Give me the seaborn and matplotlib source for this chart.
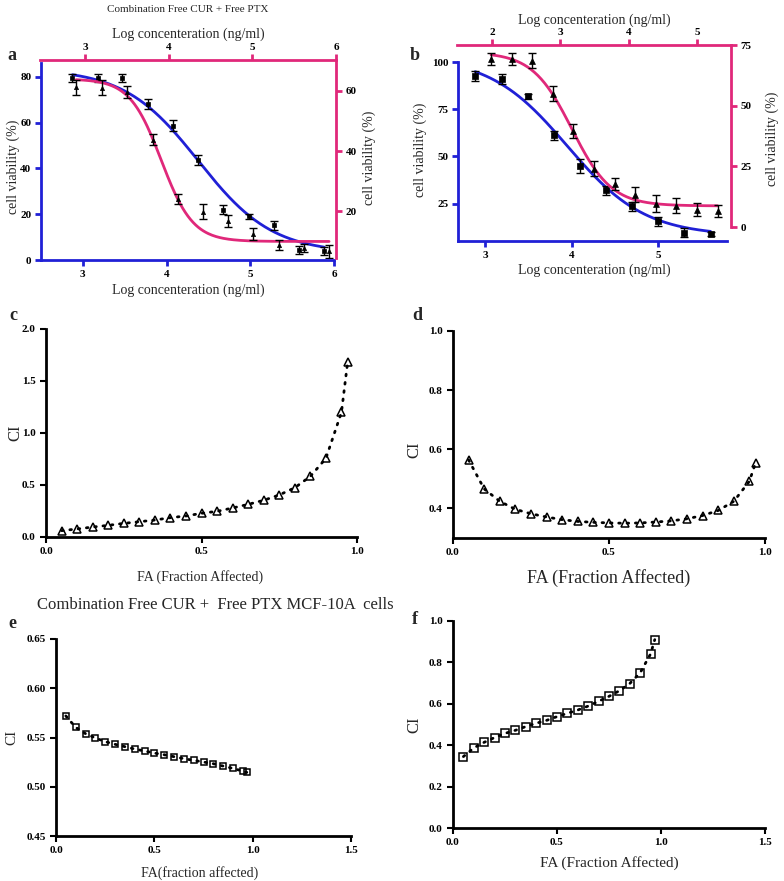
import numpy as np
import pandas as pd
import matplotlib
matplotlib.use("Agg")
import matplotlib.pyplot as plt
import seaborn as sns

sns.set_style("ticks")
plt.rcParams['font.family'] = ['Liberation Serif', 'DejaVu Serif']
plt.rcParams['mathtext.fontset'] = 'stix'

BLUE = "#2020d6"
PINK = "#e0287a"

# ---------------- data: panel a ----------------
a_sq_x = [2.876, 3.18, 3.468, 3.78, 4.072, 4.376, 4.68, 4.98, 5.284, 5.584, 5.884]
a_sq_y = [79.6, 79.6, 79.3, 68.1, 58.6, 43.7, 22.0, 19.0, 15.2, 4.3, 4.0]
a_sq_err = [1.8, 1.8, 1.8, 2.0, 2.4, 2.2, 1.8, 1.0, 2.0, 1.6, 1.6]
a_tri_x = [2.892, 3.2, 3.5, 3.807, 4.107, 4.406, 4.71, 5.01, 5.317, 5.617, 5.917]
a_tri_y = [61.2, 61.1, 59.7, 43.8, 24.1, 19.8, 16.9, 12.5, 8.8, 7.8, 6.7]
a_tri_err = [2.5, 2.5, 2.0, 1.8, 1.8, 2.5, 2.0, 2.0, 1.8, 1.2, 2.2]
# 4PL fit parameters: bottom, top, logEC50, hill
a_blue_fit = [3.0, 83.5, 4.38, 0.98]
a_pink_fit = [10.0, 64.0, 3.91, 2.3]

# ---------------- data: panel b ----------------
b_sq_x = [2.888, 3.192, 3.492, 3.792, 4.096, 4.392, 4.696, 4.996, 5.300, 5.600]
b_sq_y = [92.7, 91.0, 81.8, 61.2, 44.9, 32.1, 23.6, 15.6, 9.65, 8.8]
b_sq_err = [2.5, 2.5, 1.5, 2.5, 3.5, 2.5, 2.5, 2.5, 2.5, 1.0]
b_tri_x = [1.985, 2.289, 2.587, 2.891, 3.190, 3.493, 3.796, 4.095, 4.398, 4.697, 5.0, 5.304]
b_tri_y = [69.2, 69.2, 68.5, 55.0, 39.5, 24.1, 17.6, 13.3, 9.6, 8.8, 7.2, 6.6]
b_tri_err = [2.5, 2.5, 3.0, 3.0, 3.0, 3.0, 2.5, 3.0, 3.5, 3.0, 2.5, 2.5]
b_blue_fit = [8.0, 103.0, 3.95, 0.97]
b_pink_fit = [8.7, 72.0, 3.17, 1.5]

# ---------------- data: CI panels ----------------
fa = [0.05, 0.10, 0.15, 0.20, 0.25, 0.30, 0.35, 0.40, 0.45, 0.50,
      0.55, 0.60, 0.65, 0.70, 0.75, 0.80, 0.85, 0.90, 0.95, 0.97]
ci_c = [0.061, 0.077, 0.096, 0.112, 0.131, 0.147, 0.163, 0.186, 0.202, 0.228,
        0.247, 0.279, 0.314, 0.353, 0.404, 0.474, 0.583, 0.756, 1.199, 1.683]
ci_d = [0.564, 0.466, 0.424, 0.397, 0.382, 0.371, 0.362, 0.356, 0.353, 0.351,
        0.350, 0.351, 0.354, 0.358, 0.365, 0.376, 0.393, 0.424, 0.492, 0.555]
ci_e = [0.5719, 0.5603, 0.5539, 0.5495, 0.5458, 0.5431, 0.5407, 0.5383, 0.5363, 0.5342,
        0.5325, 0.5305, 0.5285, 0.5268, 0.5251, 0.5234, 0.5210, 0.5186, 0.5159, 0.5146]
ci_f = [0.345, 0.387, 0.414, 0.437, 0.457, 0.472, 0.490, 0.506, 0.520, 0.538,
        0.554, 0.570, 0.589, 0.612, 0.636, 0.663, 0.698, 0.750, 0.841, 0.910]

W, H = 784, 881
fig = plt.figure(figsize=(W / 100, H / 100), dpi=100)


def px_axes(x0, y0, x1, y1):
    return fig.add_axes([x0 / W, 1 - y1 / H, (x1 - x0) / W, (y1 - y0) / H])


def T(x, y, s, **kw):
    kw.setdefault('ha', 'center')
    kw.setdefault('va', 'center')
    fig.text(x / W, 1 - y / H, s, **kw)


def fourpl(x, p):
    bottom, top, ec50, hill = p
    return bottom + (top - bottom) / (1 + 10 ** ((x - ec50) * hill))


def style_main(ax, color, lw=2.0):
    for s in ['top', 'right']:
        ax.spines[s].set_visible(False)
    for s in ['left', 'bottom']:
        ax.spines[s].set_color(color)
        ax.spines[s].set_linewidth(lw)
    ax.tick_params(axis='both', colors=color, width=lw, length=4, direction='out',
                   labelcolor='black', labelsize=8, pad=3)
    for lab in ax.get_xticklabels() + ax.get_yticklabels():
        lab.set_fontweight('bold')
    ax.set_facecolor('none')


def style_twin(ax, color, lw=2.0):
    for s in ['bottom', 'left']:
        ax.spines[s].set_visible(False)
    for s in ['top', 'right']:
        ax.spines[s].set_color(color)
        ax.spines[s].set_linewidth(lw)
    ax.xaxis.tick_top()
    ax.yaxis.tick_right()
    ax.tick_params(axis='both', colors=color, width=lw, length=4, direction='out',
                   labelcolor='black', labelsize=8, pad=3)
    ax.tick_params(axis='x', pad=1.5)
    for lab in ax.get_xticklabels() + ax.get_yticklabels():
        lab.set_fontweight('bold')
    ax.set_facecolor('none')


def dose_panel(blue_box, pink_box, xl_b, yl_b, xl_p, yl_p, xt_b, yt_b, xt_p, yt_p,
               sq_x, sq_y, sq_e, tri_x, tri_y, tri_e, fit_b, fit_p, ms_sq, ms_tri):
    axb = px_axes(*blue_box)
    axp = px_axes(*pink_box)
    # blue curve + squares
    xb = np.linspace(min(sq_x), max(sq_x), 200)
    sns.lineplot(x=xb, y=fourpl(xb, fit_b), ax=axb, color=BLUE, lw=2.0)
    axb.errorbar(sq_x, sq_y, yerr=sq_e, fmt='none', ecolor='black', elinewidth=1.0,
                 capsize=2.8, capthick=1.0)
    sns.scatterplot(x=sq_x, y=sq_y, ax=axb, marker='s', color='black', s=ms_sq,
                    edgecolor='black', linewidth=0.5, zorder=5)
    axb.set_xlim(*xl_b)
    axb.set_ylim(*yl_b)
    axb.set_xticks(xt_b)
    axb.set_yticks(yt_b)
    axb.set_xticklabels([str(v) for v in xt_b])
    axb.set_yticklabels([str(v) for v in yt_b])
    axb.set_xlabel('')
    axb.set_ylabel('')
    style_main(axb, BLUE)
    # pink curve + triangles
    xp = np.linspace(min(tri_x), max(tri_x), 200)
    sns.lineplot(x=xp, y=fourpl(xp, fit_p), ax=axp, color=PINK, lw=2.0)
    axp.errorbar(tri_x, tri_y, yerr=tri_e, fmt='none', ecolor='black', elinewidth=1.0,
                 capsize=2.8, capthick=1.0)
    sns.scatterplot(x=tri_x, y=tri_y, ax=axp, marker='^', color='black', s=ms_tri,
                    edgecolor='black', linewidth=0.5, zorder=5)
    axp.set_xlim(*xl_p)
    axp.set_ylim(*yl_p)
    axp.set_xticks(xt_p)
    axp.set_yticks(yt_p)
    axp.set_xticklabels([str(v) for v in xt_p])
    axp.set_yticklabels([str(v) for v in yt_p])
    axp.set_xlabel('')
    axp.set_ylabel('')
    style_twin(axp, PINK)
    return axb, axp


# Panel a
dose_panel((41, 63, 334, 260), (40, 60, 336, 258),
           (2.5, 6.0), (0, 86), (2.46, 6.0), (4.5, 70.3),
           [3, 4, 5, 6], [0, 20, 40, 60, 80], [3, 4, 5, 6], [20, 40, 60],
           a_sq_x, a_sq_y, a_sq_err, a_tri_x, a_tri_y, a_tri_err,
           a_blue_fit, a_pink_fit, 11, 9)
T(188, 9, 'Combination Free CUR + Free PTX', fontsize=8)
T(188, 34, 'Log concenteration (ng/ml)', fontsize=10)
T(188, 290, 'Log concenteration (ng/ml)', fontsize=10)
T(13, 167, 'cell viability (%)', fontsize=10, rotation=90)
T(369, 158, 'cell viability (%)', fontsize=10, rotation=90)
T(12, 55, 'a', fontsize=13, fontweight='bold')

# Panel b
dose_panel((458, 62, 727, 241), (457, 45, 731, 227),
           (2.69, 5.79), (5.24, 100), (1.486, 5.5), (0, 75),
           [3, 4, 5], [25, 50, 75, 100], [2, 3, 4, 5], [0, 25, 50, 75],
           b_sq_x, b_sq_y, b_sq_err, b_tri_x, b_tri_y, b_tri_err,
           b_blue_fit, b_pink_fit, 18, 18)
T(594, 20, 'Log concenteration (ng/ml)', fontsize=10)
T(594, 270, 'Log concenteration (ng/ml)', fontsize=10)
T(420, 150, 'cell viability (%)', fontsize=10, rotation=90)
T(772, 139, 'cell viability (%)', fontsize=10, rotation=90)
T(415, 55, 'b', fontsize=13, fontweight='bold')


def ci_panel(box, x, y, marker, xlim, ylim, xticks, yticks, fmt, ms, mew=1.1):
    ax = px_axes(*box)
    sns.lineplot(x=x, y=y, ax=ax, color='black', lw=2.0, linestyle=(0, (0.6, 2.4)),
                 dash_capstyle='round', marker=marker, markersize=ms,
                 markerfacecolor='none', markeredgecolor='black', markeredgewidth=mew)
    ax.set_xlim(*xlim)
    ax.set_ylim(*ylim)
    ax.set_xticks(xticks)
    ax.set_yticks(yticks)
    ax.set_xticklabels([fmt[0].format(v) for v in xticks])
    ax.set_yticklabels([fmt[1].format(v) for v in yticks])
    ax.set_xlabel('')
    ax.set_ylabel('')
    for s in ['top', 'right']:
        ax.spines[s].set_visible(False)
    for s in ['left', 'bottom']:
        ax.spines[s].set_color('black')
        ax.spines[s].set_linewidth(2.0)
    ax.tick_params(axis='both', width=1.5, length=4, direction='out', labelsize=8,
                   colors='black')
    for lab in ax.get_xticklabels() + ax.get_yticklabels():
        lab.set_fontweight('bold')
    for l in ax.get_lines():
        l.set_clip_on(False)
    return ax


# Panel c
ci_panel((46, 329, 357, 537), fa, ci_c, '^', (0, 1.0), (0, 2.0),
         [0.0, 0.5, 1.0], [0.0, 0.5, 1.0, 1.5, 2.0], ('{:.1f}', '{:.1f}'), 6)
T(13, 315, 'c', fontsize=13, fontweight='bold')
T(15, 433, 'CI', fontsize=12, rotation=90)
T(200, 577, 'FA (Fraction Affected)', fontsize=10)

# Panel d
ci_panel((453, 331, 765, 538), fa, ci_d, '^', (0, 1.0), (0.3, 1.0),
         [0.0, 0.5, 1.0], [0.4, 0.6, 0.8, 1.0], ('{:.1f}', '{:.1f}'), 6)
T(417, 315, 'd', fontsize=13, fontweight='bold')
T(414, 450, 'CI', fontsize=12, rotation=90)
T(609, 578, 'FA (Fraction Affected)', fontsize=13)

# Panel e
ci_panel((56, 639, 351, 836), fa, ci_e, 's', (0, 1.5), (0.45, 0.65),
         [0.0, 0.5, 1.0, 1.5], [0.45, 0.50, 0.55, 0.60, 0.65], ('{:.1f}', '{:.2f}'), 5)
T(37, 605, 'Combination Free CUR +  Free PTX MCF-10A  cells', fontsize=12, ha='left')
T(12, 624, 'e', fontsize=13, fontweight='bold')
T(12, 737, 'CI', fontsize=11, rotation=90)
T(200, 873, 'FA(fraction affected)', fontsize=10)

# Panel f
ci_panel((453, 621, 765, 828), fa, ci_f, 's', (0, 1.5), (0, 1.0),
         [0.0, 0.5, 1.0, 1.5], [0.0, 0.2, 0.4, 0.6, 0.8, 1.0], ('{:.1f}', '{:.1f}'), 5.5)
T(415, 620, 'f', fontsize=13, fontweight='bold')
T(414, 725, 'CI', fontsize=12, rotation=90)
T(609, 863, 'FA (Fraction Affected)', fontsize=11)

fig.savefig('out.png', dpi=100)
